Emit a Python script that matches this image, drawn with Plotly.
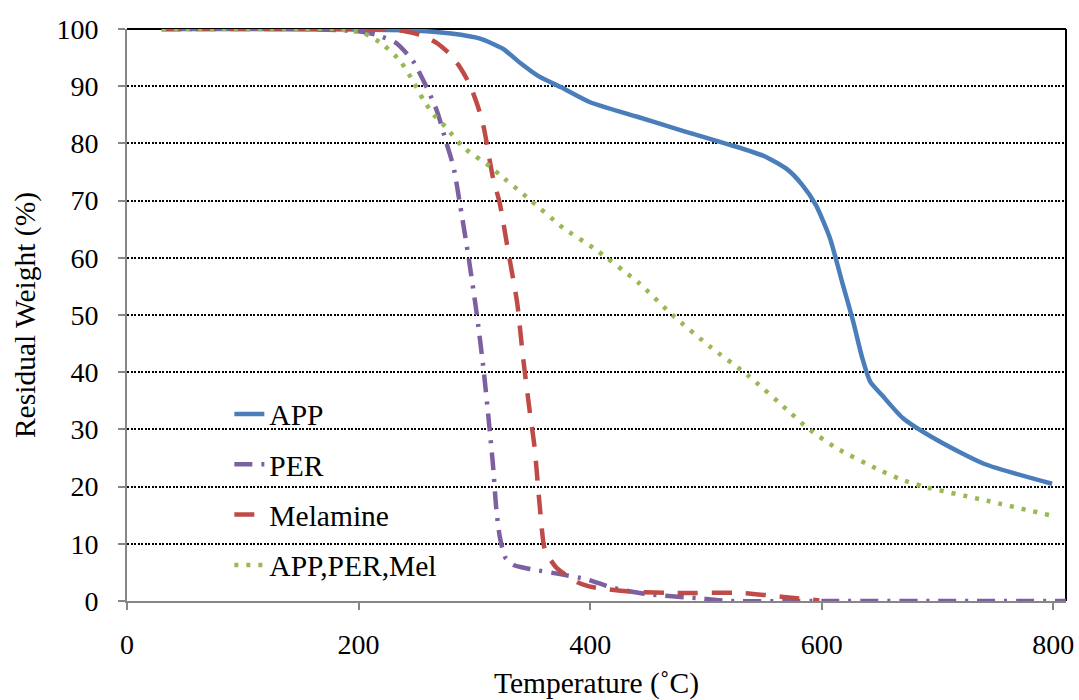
import plotly.graph_objects as go

# TGA curves: temperature (°C) vs residual weight (%)
app_t = [30, 100, 200, 250, 280, 305, 325, 340, 355, 375, 400, 440, 480, 520, 550,
         570, 583, 595, 607, 618, 627, 635, 642, 652, 670, 700, 740, 799]
app_w = [100, 100, 99.9, 99.7, 99.2, 98.3, 96.5, 94.0, 91.8, 89.8, 87.2, 84.7, 82.2,
         79.8, 77.8, 75.5, 72.8, 69.2, 63.5, 55.5, 49.0, 42.5, 38.3, 36.0, 32.0, 28.1,
         24.0, 20.5]

per_t = [30, 150, 200, 215, 232, 247, 260, 268, 276, 282, 287, 295, 302, 308, 313,
         316, 319, 322, 327, 335, 348, 374, 397, 420, 449, 492, 520, 600, 700, 811]
per_w = [100, 100, 99.6, 99.0, 97.6, 94.4, 89.3, 85.5, 80.0, 75.9, 70.1, 60.1, 50.3,
         40.4, 30.4, 24.0, 16.0, 11.2, 7.5, 6.2, 5.6, 4.7, 3.8, 2.3, 1.2, 0.5, 0, 0,
         0, 0]

mel_t = [30, 150, 220, 240, 256, 268, 279, 288, 296, 303, 308, 316, 322, 329, 337,
         342, 348, 352, 357, 361, 371, 390, 403, 437, 475, 532, 567, 598]
mel_w = [100, 100, 100, 99.6, 98.8, 97.5, 95.6, 93.2, 90.3, 86.5, 82.9, 74.1, 69.5,
         61.4, 52.1, 42.7, 32.9, 26.9, 15.4, 8.9, 5.8, 3.2, 2.4, 1.6, 1.4, 1.4, 0.7,
         0.1]

mix_t = [30, 150, 178, 204, 221, 236, 247, 256, 265, 276, 290, 314, 322, 346, 377,
         403, 442, 471, 504, 536, 573, 588, 613, 650, 668, 688, 739, 797]
mix_w = [100, 100, 100, 99.3, 97.3, 94.4, 90.9, 87.6, 85.0, 82.7, 79.4, 75.9, 74.5,
         70.5, 65.2, 61.7, 55.6, 50.0, 44.4, 39.5, 32.9, 30.2, 26.7, 22.9, 21.3, 20.0,
         17.7, 15.0]

x_ticks = [0, 200, 400, 600, 800]
y_ticks = list(range(0, 101, 10))

FONT = "Liberation Serif, Times New Roman, serif"
AXIS_GREY = "#868686"
TICK_SIZE = 28
TEXT_SIZE = 29.5

series = [
    ("APP", app_t, app_w, "#4A7EBB", "solid"),
    ("PER", per_t, per_w, "#7D60A0", "18px,9px,3px,9px"),
    ("Melamine", mel_t, mel_w, "#BE4B48", "20px,14px"),
    ("APP,PER,Mel", mix_t, mix_w, "#98B954", "4px,8px"),
]

fig = go.Figure()
for name, t, w, color, dash in series:
    fig.add_trace(go.Scatter(
        x=t, y=w, mode="lines", name=name, legendgroup=name,
        line=dict(color=color, width=4.5, dash=dash, shape="spline", smoothing=0.6),
    ))

fig.update_layout(
    width=1079, height=700,
    margin=dict(l=127, r=13, t=29, b=99),
    paper_bgcolor="white", plot_bgcolor="white",
    font=dict(family=FONT, size=TICK_SIZE, color="black"),
    legend=dict(
        x=0.109, y=0.372, xanchor="left", yanchor="top",
        bgcolor="rgba(0,0,0,0)", tracegroupgap=9,
        font=dict(family=FONT, size=TEXT_SIZE, color="black"),
    ),
    shapes=[
        dict(type="line", xref="paper", yref="paper", x0=0, x1=1, y0=1, y1=1,
             line=dict(color="black", width=2), layer="between"),
        dict(type="line", xref="paper", yref="paper", x0=1, x1=1, y0=0, y1=1,
             line=dict(color="black", width=2), layer="between"),
    ],
)

fig.update_xaxes(
    range=[0, 811], tickvals=x_ticks, ticktext=[str(v) for v in x_ticks],
    showline=True, linecolor=AXIS_GREY, linewidth=2,
    ticks="outside", ticklen=7, tickwidth=2, tickcolor=AXIS_GREY,
    ticklabelstandoff=10, automargin=False,
    showgrid=False, zeroline=False,
    title=dict(text="Temperature (˚C)", standoff=14,
               font=dict(family=FONT, size=TEXT_SIZE, color="black")),
)

fig.update_yaxes(
    range=[0, 100], tickvals=y_ticks, ticktext=[str(v) for v in y_ticks],
    showline=True, linecolor=AXIS_GREY, linewidth=2,
    ticks="outside", ticklen=7, tickwidth=2, tickcolor=AXIS_GREY,
    ticklabelstandoff=14, automargin=False,
    showgrid=True, gridcolor="black", gridwidth=1.5, griddash="2px,1.5px",
    zeroline=False,
    title=dict(text="Residual Weight (%)", standoff=12,
               font=dict(family=FONT, size=TEXT_SIZE, color="black")),
)

fig.write_html("out.html")
